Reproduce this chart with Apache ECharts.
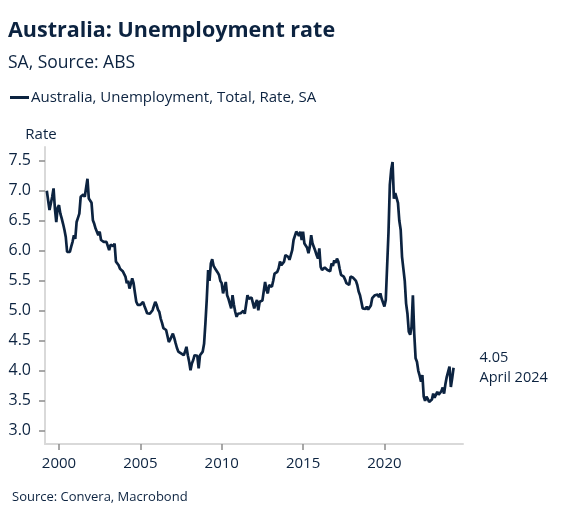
<!DOCTYPE html>
<html>
<head>
<meta charset="utf-8">
<script src="https://cdn.jsdelivr.net/npm/echarts@6/dist/echarts.min.js"></script>
<style>
  html, body { margin: 0; padding: 0; background: #ffffff; }
  #chart { width: 566px; height: 521px; }
</style>
</head>
<body>
<div id="chart"></div>
<script>
// ---- Data (monthly, seasonally adjusted, %), first value = April 1999 ----
const firstYear = 1999;
const firstMonth = 4; // April
const y1999 = [7.00, 6.98, 6.68, 6.66, 6.90, 7.04, 6.70, 6.48, 6.72];
const y2000 = [6.76, 6.62, 6.54, 6.45, 6.35, 6.23, 5.98, 5.97, 5.98, 6.07, 6.15, 6.26];
const y2001 = [6.20, 6.48, 6.55, 6.62, 6.90, 6.92, 6.94, 6.90, 6.87, 7.20, 6.87, 6.90];
const y2002 = [6.80, 6.51, 6.45, 6.37, 6.40, 6.26, 6.32, 6.18, 6.20, 6.15, 6.17, 6.15];
const y2003 = [6.12, 6.01, 6.10, 6.12, 6.08, 6.12, 5.82, 5.80, 5.76, 5.70, 5.68, 5.66];
const y2004 = [5.64, 5.57, 5.46, 5.50, 5.37, 5.45, 5.54, 5.46, 5.30, 5.15, 5.10, 5.09];
const y2005 = [5.10, 5.12, 5.15, 5.08, 5.02, 4.96, 4.93, 4.95, 4.98, 5.01, 5.08, 5.15];
const y2006 = [5.10, 5.02, 4.98, 4.87, 4.80, 4.71, 4.70, 4.68, 4.58, 4.48, 4.52, 4.57];
const y2007 = [4.62, 4.55, 4.46, 4.38, 4.32, 4.30, 4.29, 4.28, 4.26, 4.32, 4.40, 4.26];
const y2008 = [4.15, 4.01, 4.12, 4.18, 4.26, 4.24, 4.25, 4.04, 4.26, 4.28, 4.32, 4.45];
const y2009 = [4.80, 5.20, 5.68, 5.50, 5.79, 5.86, 5.75, 5.71, 5.68, 5.64, 5.60, 5.50];
const y2010 = [5.46, 5.29, 5.38, 5.48, 5.26, 5.20, 5.18, 5.04, 5.26, 5.10, 4.98, 4.90];
const y2011 = [4.95, 4.98, 4.96, 4.97, 5.00, 4.95, 4.93, 5.26, 5.20, 5.23, 5.22, 5.21];
const y2012 = [5.04, 5.12, 5.18, 5.01, 5.15, 5.18, 5.17, 5.18, 5.48, 5.35, 5.29, 5.43];
const y2013 = [5.42, 5.40, 5.50, 5.62, 5.64, 5.65, 5.71, 5.82, 5.76, 5.78, 5.82, 5.93];
const y2014 = [5.92, 5.90, 5.85, 5.82, 6.01, 6.18, 6.15, 6.32, 6.35, 6.25, 6.32, 6.18];
const y2015 = [6.32, 6.12, 6.10, 6.05, 5.96, 6.07, 6.26, 6.12, 6.10, 6.00, 5.93, 5.87];
const y2016 = [6.04, 5.73, 5.68, 5.70, 5.72, 5.70, 5.68, 5.65, 5.66, 5.79, 5.75, 5.84];
const y2017 = [5.80, 5.87, 5.82, 5.70, 5.60, 5.58, 5.57, 5.52, 5.46, 5.44, 5.43, 5.57];
const y2018 = [5.57, 5.55, 5.54, 5.50, 5.43, 5.32, 5.26, 5.15, 5.04, 5.01, 5.03, 5.07];
const y2019 = [5.02, 4.99, 5.09, 5.21, 5.24, 5.26, 5.29, 5.27, 5.23, 5.29, 5.20, 5.23];
const y2020 = [5.07, 5.18, 5.15, 6.30, 7.10, 7.35, 7.48, 6.87, 6.96, 6.95, 6.80, 6.50];
const y2021 = [6.35, 5.90, 5.70, 5.50, 5.12, 4.95, 4.65, 4.60, 4.73, 5.26, 4.62, 4.21];
const y2022 = [4.15, 4.00, 3.92, 3.82, 3.93, 3.57, 3.50, 3.57, 3.53, 3.48, 3.50, 3.52];
const y2023 = [3.62, 3.55, 3.60, 3.65, 3.60, 3.57, 3.66, 3.72, 3.62, 3.78, 3.90, 3.90];
const y2024 = [4.07, 3.73, 3.88, 4.05];

const yTickValues = [3.0, 3.5, 4.0, 4.5, 5.0, 5.5, 6.0, 6.5, 7.0, 7.5];
const xTickYears = [2000, 2005, 2010, 2015, 2020];
const monthNames = ['January','February','March','April','May','June','July','August','September','October','November','December'];

const titleText = 'Australia: Unemployment rate';
const subtitleText = 'SA, Source: ABS';
const seriesName = 'Australia, Unemployment, Total, Rate, SA';
const sourceText = 'Source: Convera, Macrobond';
const yAxisName = 'Rate';

// ---- Build series (x = decimal year, month start) ----
const allValues = [].concat(y1999, y2000, y2001, y2002, y2003, y2004, y2005, y2006,
  y2007, y2008, y2009, y2010, y2011, y2012, y2013, y2014, y2015, y2016, y2017,
  y2018, y2019, y2020, y2021, y2022, y2023, y2024);
const seriesData = allValues.map((v, i) => {
  const m0 = firstMonth - 1 + i;
  return [firstYear + m0 / 12, v];
});

const FONT = '"Open Sans", "Noto Sans", sans-serif';
const NAVY = '#0c2340';

const chart = echarts.init(document.getElementById('chart'), null, { renderer: 'canvas' });
chart.setOption({
  backgroundColor: '#ffffff',
  animation: false,
  textStyle: { fontFamily: FONT },
  title: [
    { text: titleText, left: 8, top: 20, padding: 0,
      textStyle: { fontFamily: FONT, fontSize: 21.5, fontWeight: 'bold', color: NAVY } },
    { text: subtitleText, left: 8, top: 54, padding: 0,
      textStyle: { fontFamily: FONT, fontSize: 17.5, fontWeight: 'normal', color: NAVY } },
    { text: sourceText, left: 12, top: 491, padding: 0,
      textStyle: { fontFamily: FONT, fontSize: 13, fontWeight: 'normal', color: NAVY } }
  ],
  legend: {
    left: 10, top: 90, padding: 0,
    icon: 'rect', itemWidth: 19, itemHeight: 3, itemGap: 10,
    textStyle: { fontFamily: FONT, fontSize: 15, color: NAVY, padding: [0, 0, 0, -3] },
    data: [seriesName]
  },
  grid: { left: 45, right: 103, top: 147, bottom: 77, containLabel: false },
  xAxis: {
    type: 'value',
    min: 1999.14,
    max: 2024.83,
    axisLine: { show: true, lineStyle: { color: '#d9d9d9', width: 2 } },
    axisTick: { show: true, customValues: xTickYears, length: 6, lineStyle: { color: '#8c8c8c', width: 1.5 } },
    axisLabel: {
      customValues: xTickYears,
      formatter: v => String(Math.round(v)),
      fontFamily: FONT, fontSize: 15, color: NAVY, margin: 12
    },
    splitLine: { show: false }
  },
  yAxis: {
    type: 'value',
    min: 2.78, max: 7.73,
    name: yAxisName, nameLocation: 'end', nameGap: 5,
    nameTextStyle: { fontFamily: FONT, fontSize: 15, color: NAVY, padding: [0, 8, 0, 0] },
    axisLine: { show: true, lineStyle: { color: '#d9d9d9', width: 2 } },
    axisTick: { show: true, customValues: yTickValues, length: 6, lineStyle: { color: '#8c8c8c', width: 1.5 } },
    axisLabel: {
      customValues: yTickValues,
      formatter: v => Number(v).toFixed(1),
      fontFamily: FONT, fontSize: 16, color: NAVY, margin: 14
    },
    splitLine: { show: false }
  },
  series: [{
    name: seriesName,
    type: 'line',
    data: seriesData,
    showSymbol: false,
    symbol: 'none',
    lineStyle: { color: NAVY, width: 2.7 },
    itemStyle: { color: NAVY },
    endLabel: {
      show: true,
      distance: 26,
      formatter: p => {
        const idx = Math.round((p.value[0] - firstYear) * 12);
        const yr = firstYear + Math.floor(idx / 12);
        return p.value[1].toFixed(2) + '\n' + monthNames[idx % 12] + ' ' + yr;
      },
      fontFamily: FONT, fontSize: 14.5, lineHeight: 20, color: NAVY, align: 'left'
    }
  }]
});
</script>
</body>
</html>
